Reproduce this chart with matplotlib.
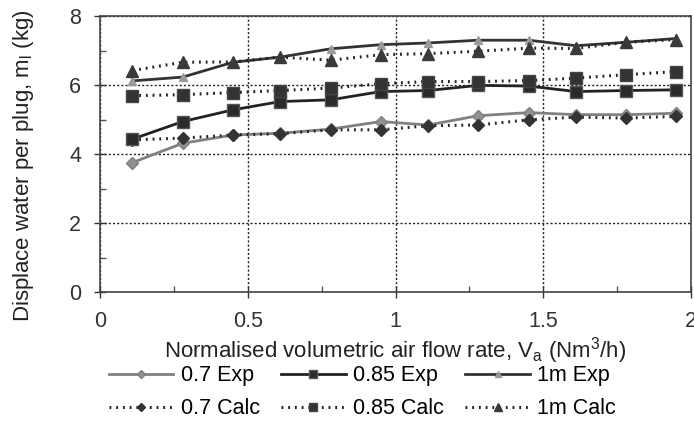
import matplotlib
matplotlib.use('Agg')
import matplotlib.pyplot as plt
from matplotlib.ticker import MultipleLocator

plt.rcParams['font.family'] = ['Liberation Sans', 'DejaVu Sans']

# air flow rate (Nm3/h)
flow = [0.11, 0.28, 0.45, 0.61, 0.78, 0.95, 1.11, 1.28, 1.45, 1.61, 1.78, 1.95]

exp_07 = [3.76, 4.32, 4.56, 4.61, 4.73, 4.95, 4.85, 5.12, 5.21, 5.15, 5.15, 5.19]
calc_07 = [4.42, 4.47, 4.56, 4.60, 4.71, 4.71, 4.83, 4.85, 5.00, 5.08, 5.05, 5.10]
exp_085 = [4.44, 4.95, 5.29, 5.53, 5.58, 5.82, 5.85, 6.00, 5.98, 5.82, 5.85, 5.87]
calc_085 = [5.70, 5.73, 5.79, 5.85, 5.92, 6.05, 6.11, 6.11, 6.14, 6.21, 6.31, 6.40]
exp_1m = [6.13, 6.24, 6.67, 6.82, 7.06, 7.18, 7.23, 7.31, 7.31, 7.15, 7.25, 7.36]
calc_1m = [6.43, 6.67, 6.68, 6.82, 6.73, 6.89, 6.92, 6.99, 7.08, 7.07, 7.25, 7.33]

fig = plt.figure(figsize=(6.94, 4.21), dpi=100)
ax = fig.add_axes([0.144, 0.306, 0.852, 0.655])

dot = (0, (0.6, 1.6))
h = {}
h['e07'], = ax.plot(flow, exp_07, color='#808080', lw=2, marker='D', ms=6,
                    mfc='#909090', mec='#808080', label='0.7 Exp')
h['c07'], = ax.plot(flow, calc_07, color='#222222', lw=2.2, ls=dot, marker='D', ms=6,
                    mfc='#333333', mec='#333333', label='0.7 Calc')
h['e085'], = ax.plot(flow, exp_085, color='#222222', lw=2, marker='s', ms=8,
                     mfc='#2a2a2a', mec='#555555', label='0.85 Exp')
h['c085'], = ax.plot(flow, calc_085, color='#222222', lw=2.2, ls=dot, marker='s', ms=9,
                     mfc='#333333', mec='#444444', label='0.85 Calc')
h['e1'], = ax.plot(flow, exp_1m, color='#333333', lw=2, marker='^', ms=6,
                   mfc='#9a9a9a', mec='#9a9a9a', label='1m Exp')
h['c1'], = ax.plot(flow, calc_1m, color='#222222', lw=2.2, ls=dot, marker='^', ms=9,
                   mfc='#3a3a3a', mec='#3a3a3a', label='1m Calc')

ax.set_xlim(0, 2)
ax.set_ylim(0, 8)
ax.xaxis.set_minor_locator(MultipleLocator(0.25))
ax.yaxis.set_major_locator(MultipleLocator(2))
ax.yaxis.set_minor_locator(MultipleLocator(1))
ax.set_xticks([0, 0.5, 1, 1.5, 2])
ax.set_xticklabels(['0', '0.5', '1', '1.5', '2'])
ax.tick_params(which='major', direction='inout', length=8, width=1, labelsize=15.5,
               colors='#333333', pad=9.5)
ax.tick_params(which='minor', direction='in', length=4, width=1, colors='#555555')
ax.grid(which='major', color='#222222', ls=(0, (1.5, 1.5)), lw=1)
for s in ax.spines.values():
    s.set_color('#444444')
    s.set_linewidth(1.2)

ax.set_xlabel('Normalised volumetric air flow rate, V$_\\mathregular{a}$ (Nm$^\\mathregular{3}$/h)',
              fontsize=16, color='#222222')
ax.xaxis.set_label_coords(0.5, -0.155)
ax.set_ylabel('Displace water per plug, m$_\\mathregular{l}$ (kg)',
              fontsize=16, color='#222222')
ax.yaxis.set_label_coords(-0.129, 0.46)
ax.yaxis.label.set_va('center')

order = ['e07', 'c07', 'e085', 'c085', 'e1', 'c1']
fig.legend([h[k] for k in order], [h[k].get_label() for k in order],
           loc='center', bbox_to_anchor=(0.522, 0.068), ncol=3, frameon=False,
           fontsize=15.5, handlelength=3.0, columnspacing=1.0, handletextpad=0.33,
           labelspacing=0.55, markerscale=0.7, borderpad=0)

fig.savefig('out.png', dpi=100)
